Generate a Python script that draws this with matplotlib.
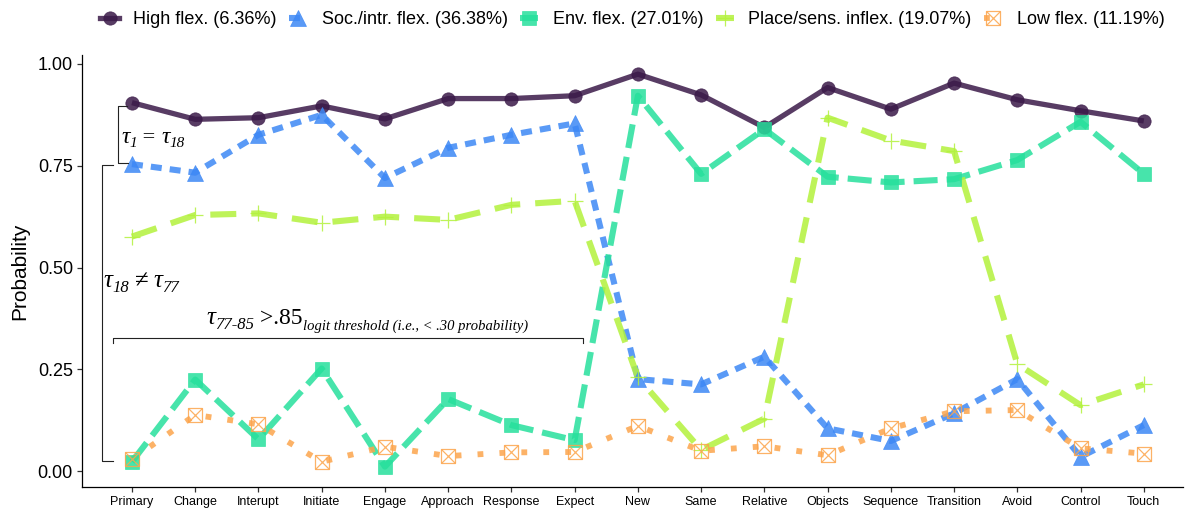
import matplotlib
matplotlib.use('Agg')
import matplotlib.pyplot as plt
from matplotlib.lines import Line2D
from matplotlib.legend_handler import HandlerTuple
from matplotlib.transforms import offset_copy
import numpy as np

plt.rcParams['font.family'] = ['Liberation Sans', 'DejaVu Sans']
plt.rcParams['lines.scale_dashes'] = False

categories = ['Primary', 'Change', 'Interupt', 'Initiate', 'Engage', 'Approach',
              'Response', 'Expect', 'New', 'Same', 'Relative', 'Objects',
              'Sequence', 'Transition', 'Avoid', 'Control', 'Touch']

high_flex = [0.905, 0.864, 0.868, 0.897, 0.865, 0.915, 0.915, 0.922, 0.975,
             0.924, 0.844, 0.942, 0.889, 0.953, 0.912, 0.885, 0.860]
soc_flex = [0.754, 0.733, 0.826, 0.875, 0.720, 0.794, 0.826, 0.854, 0.226,
            0.213, 0.281, 0.105, 0.074, 0.142, 0.226, 0.035, 0.113]
env_flex = [0.023, 0.225, 0.078, 0.252, 0.011, 0.177, 0.113, 0.076, 0.922,
            0.730, 0.840, 0.723, 0.709, 0.717, 0.764, 0.858, 0.730]
place_inflex = [0.576, 0.629, 0.633, 0.610, 0.625, 0.617, 0.654, 0.664, 0.230,
                0.052, 0.129, 0.868, 0.812, 0.786, 0.263, 0.162, 0.213]
low_flex = [0.029, 0.138, 0.115, 0.023, 0.060, 0.037, 0.046, 0.047, 0.111,
            0.050, 0.061, 0.039, 0.105, 0.147, 0.150, 0.056, 0.043]

series_labels = ['High flex. (6.36%)', 'Soc./intr. flex. (36.38%)',
                 'Env. flex. (27.01%)', 'Place/sens. inflex. (19.07%)',
                 'Low flex. (11.19%)']

W, H = 1194, 512
fig = plt.figure(figsize=(W / 100, H / 100), dpi=100)
ax = fig.add_axes([82 / W, 1 - 487 / H, (1183 - 82) / W, (487 - 55) / H])

x = np.arange(len(categories))
A = 0.85

styles = [
    dict(color='#3b1a49', lw=3.8, dashes=None, marker='o', ms=9.6, mfc='#3b1a49', mec='#3b1a49', mew=0.5),
    dict(color='#3d88f5', lw=4.4, dashes=(7.9, 5.8), marker='^', ms=11.3, mfc='#3d88f5', mec='#3d88f5', mew=0.5),
    dict(color='#27e09c', lw=4.4, dashes=(17.3, 6.5), marker='s', ms=9.4, mfc='#27e09c', mec='#27e09c', mew=0.5),
    dict(color='#b3f23c', lw=4.4, dashes=(18.7, 10.8), marker='+', ms=11.5, mfc='none', mec='#b3f23c', mew=0.9),
    dict(color='#fca54c', lw=4.2, dashes=(4.2, 11.6), marker='s', ms=9.4, mfc='none', mec='#fca54c', mew=0.9),
]
data = [high_flex, soc_flex, env_flex, place_inflex, low_flex]

for y, st in zip(data, styles):
    ln, = ax.plot(x, y, color=st['color'], lw=st['lw'], alpha=A, zorder=2,
                  solid_capstyle='butt', dash_capstyle='butt')
    if st['dashes'] is not None:
        ln.set_dashes(st['dashes'])
for i, (y, st) in enumerate(zip(data, styles)):
    ax.plot(x, y, ls='none', marker=st['marker'], ms=st['ms'], mfc=st['mfc'],
            mec=st['mec'], mew=st['mew'], alpha=A, zorder=3)
    if i == 4:
        ax.plot(x, y, ls='none', marker='x', ms=st['ms'], mec=st['mec'],
                mew=st['mew'], alpha=A, zorder=3)

ax.set_xlim(-0.79, 16.62)
ax.set_ylim(-0.039, 1.022)
ax.set_xticks(x)
ax.set_xticklabels(categories, fontsize=9)
ax.set_yticks([0, 0.25, 0.5, 0.75, 1.0])
ax.set_yticklabels(['0.00', '0.25', '0.50', '0.75', '1.00'], fontsize=13)
ax.set_ylabel('Probability', fontsize=15, labelpad=6)
for s in ['top', 'right']:
    ax.spines[s].set_visible(False)
for s in ['left', 'bottom']:
    ax.spines[s].set_linewidth(0.9)
ax.tick_params(axis='both', length=3.5, width=0.9, color='#333333', pad=3)

# annotation brackets
bc = '#222222'
blw = 0.8
ax.plot([-0.08, -0.22, -0.22, -0.06], [0.897, 0.897, 0.757, 0.757], color=bc, lw=blw, zorder=4)
ax.plot([-0.30, -0.475, -0.475, -0.30], [0.752, 0.752, 0.025, 0.025], color=bc, lw=blw, zorder=4)
ax.plot([-0.30, -0.30, 7.14, 7.14], [0.314, 0.327, 0.327, 0.314], color=bc, lw=blw, zorder=4)

renderer = fig.canvas.get_renderer()
SERIF = 'Liberation Serif'


def rich_text(xd, yd, pieces, ha='left'):
    """pieces: (text, size, style, baseline shift in fraction of size)"""
    arts = []
    widths = []
    for txt, size, style, shift in pieces:
        t = ax.text(0, 0, txt, fontsize=size, fontstyle=style, family=SERIF,
                    va='baseline', ha='left')
        widths.append(t.get_window_extent(renderer).width)
        arts.append(t)
    total = sum(widths)
    start = 0 if ha == 'left' else -total / 2
    cur = start
    for t, w, (txt, size, style, shift) in zip(arts, widths, pieces):
        t.set_position((xd, yd))
        t.set_transform(offset_copy(ax.transData, fig=fig, x=cur,
                                    y=shift * size * 100 / 72, units='dots'))
        cur += w


rich_text(-0.17, 0.807, [('τ', 17, 'italic', 0), ('1', 11, 'italic', -0.3),
                          (' = ', 16, 'normal', 0), ('τ', 17, 'italic', 0),
                          ('18', 11, 'italic', -0.3)])
rich_text(-0.445, 0.452, [('τ', 18, 'italic', 0), ('18', 12, 'italic', -0.3),
                           ('\u2009≠\u2009', 18, 'normal', 0), ('τ', 18, 'italic', 0),
                           ('77', 12, 'italic', -0.3)])
rich_text(3.72, 0.362, [('τ', 18, 'italic', 0), ('77-85', 12, 'italic', -0.3),
                         (' >.85', 17, 'normal', 0),
                         ('logit threshold (i.e., < .30 probability)', 10.5, 'italic', -0.45)],
          ha='center')

# legend
handles = []
for i, st in enumerate(styles):
    ln = Line2D([], [], color=st['color'], lw=st['lw'], marker=st['marker'], ms=st['ms'],
                mfc=st['mfc'], mec=st['mec'], mew=st['mew'], alpha=A)
    if st['dashes'] is not None:
        ln.set_dashes(st['dashes'])
    if i == 4:
        xm = Line2D([], [], ls='none', marker='x', ms=st['ms'], mec=st['mec'], mew=st['mew'], alpha=A)
        handles.append((ln, xm))
    else:
        handles.append(ln)

cx = (82 + 1183) / 2 / W
fig.legend(handles, series_labels, loc='center', bbox_to_anchor=(cx, 1 - 20 / H),
           ncol=5, frameon=False, fontsize=13, handlelength=1.0,
           handletextpad=0.8, columnspacing=0.7,
           handler_map={tuple: HandlerTuple(ndivide=1)})

fig.savefig('out.png', dpi=100)
